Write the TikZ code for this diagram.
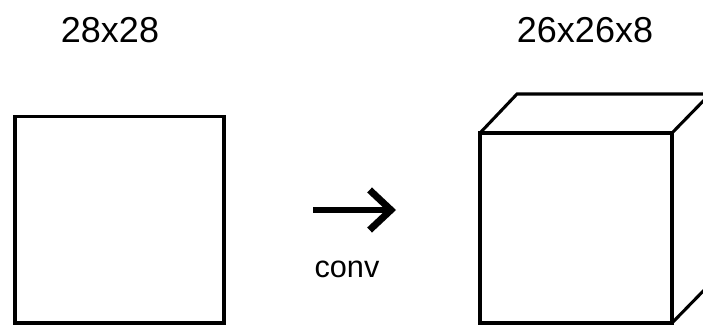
\documentclass[tikz,border=0pt]{standalone}
\usepackage{fontspec}
\setmainfont{Liberation Sans}
\usetikzlibrary{arrows.meta}
\begin{document}
\begin{tikzpicture}[x=0.75pt,y=-0.75pt,
  edge/.style={line width=2.3pt,line join=miter},
  dimlabel/.style={font=\fontsize{27}{31}\selectfont,inner sep=0pt,anchor=center},
  oplabel/.style={font=\fontsize{23}{27}\selectfont,inner sep=0pt,anchor=center}]
  \useasboundingbox (0,0) rectangle (703,327);
  % input map
  \draw[edge] (15,116.5) rectangle (224,323);
  \node[dimlabel] (inlabel) at (110,30) {28x28};
  % convolution arrow
  \coordinate (arrowstart) at (313,210);
  \coordinate (arrowend) at (396,210);
  \draw[line width=5.2pt,-{Straight Barb[length=16pt,width=30pt,line width=5.2pt]}] (arrowstart) -- (arrowend);
  \node[oplabel] (conv) at (347,269) {conv};
  % output volume
  \coordinate (f1) at (480,133);
  \coordinate (f2) at (672,133);
  \coordinate (f3) at (672,323);
  \coordinate (f4) at (480,323);
  \draw[edge] (f1) rectangle (f3);
  \draw[edge] (f1) -- ++(37,-39) coordinate (b1) -- ++(230,0);
  \draw[edge] (f2) -- ++(40,-41);
  \draw[edge] (f3) -- ++(40,-41);
  \node[dimlabel] (outlabel) at (585,30) {26x26x8};
\end{tikzpicture}
\end{document}
